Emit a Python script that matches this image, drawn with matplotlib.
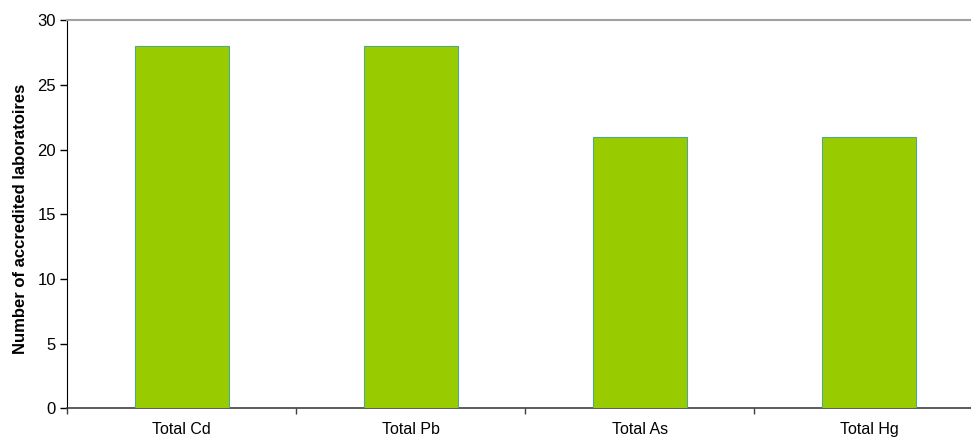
import matplotlib
matplotlib.use("Agg")
import matplotlib.pyplot as plt
import numpy as np

categories = ["Total Cd", "Total Pb", "Total As", "Total Hg"]
counts = [28, 28, 21, 21]
yticks = [0, 5, 10, 15, 20, 25, 30]

plt.rcParams['font.family'] = ['Liberation Sans', 'DejaVu Sans']

fig = plt.figure(figsize=(9.71, 4.4), dpi=100)
# plot area runs past the right edge, as in the original
ax = fig.add_axes([67 / 971, 31.7 / 440, 916.5 / 971, 388 / 440])

x = np.arange(len(categories))
ax.bar(x, counts, width=0.41, color='#99CC00', edgecolor='#4FA88C', linewidth=0.8, zorder=3)

ax.set_xlim(-0.5, len(categories) - 0.5)
ax.set_ylim(0, 30)
ax.set_yticks(yticks)
ax.set_yticklabels([str(v) for v in yticks], fontsize=12)

# category labels centred, ticks on the boundaries
ax.set_xticks(x)
ax.set_xticklabels(categories, fontsize=11.5)
ax.tick_params(axis='x', which='major', length=0, pad=10)
ax.set_xticks(np.arange(len(categories)) - 0.5, minor=True)
ax.tick_params(axis='x', which='minor', length=4, width=1, direction='out', color='#404040')
ax.tick_params(axis='y', length=5, width=1, direction='out', pad=3)

ax.spines['right'].set_visible(False)
ax.spines['top'].set_color('#A0A0A0')
ax.spines['top'].set_linewidth(1.5)
ax.spines['left'].set_color('black')
ax.spines['bottom'].set_color('#404040')
ax.spines['bottom'].set_linewidth(1.2)

ax.set_ylabel("Number of accredited laboratoires", fontsize=12, fontweight='bold')
ax.yaxis.set_label_coords(-0.0422, 0.487)

fig.savefig("out.png", dpi=100)
